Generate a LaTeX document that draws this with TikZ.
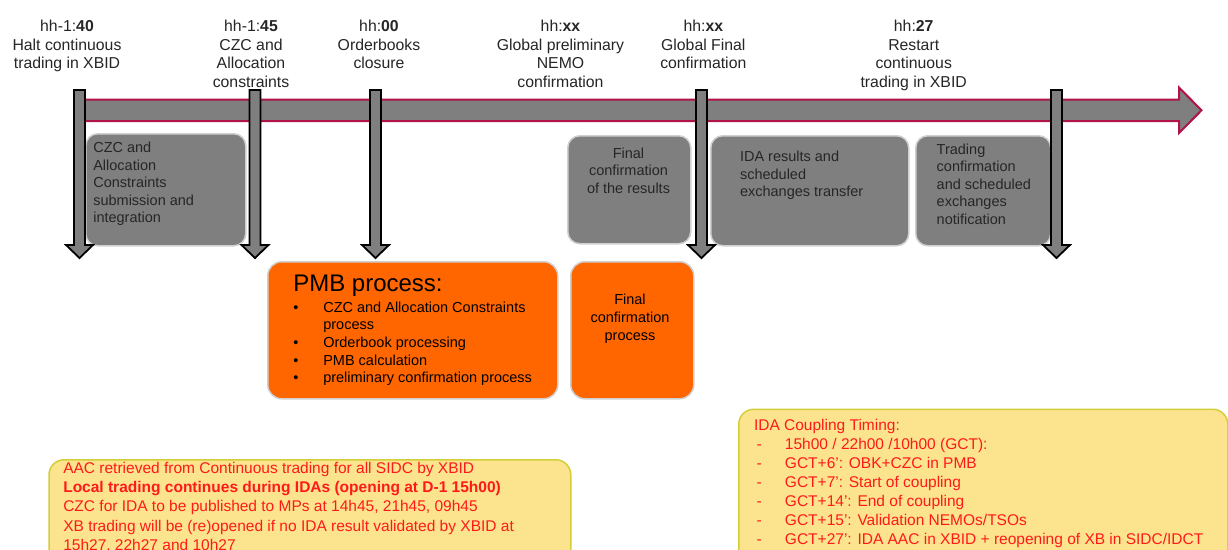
\documentclass[tikz,border=0pt]{standalone}
\usepackage{fontspec}
\setmainfont{Liberation Sans}
\definecolor{boxgray}{HTML}{7F7F7F}
\definecolor{crim}{HTML}{B0124A}
\definecolor{orng}{HTML}{FF6600}
\definecolor{ylw}{HTML}{FCE48E}
\definecolor{ylwline}{HTML}{D4CE3A}
\definecolor{txtdark}{HTML}{262626}
\definecolor{redtxt}{HTML}{FF1A1A}
\definecolor{softline}{HTML}{D0D0D0}
\newcommand\dashitem{\hspace*{2.7pt}\makebox[28.3pt][l]{-}}
\newcommand\bulitem{\makebox[30pt][l]{\textbullet}}
\begin{document}
\begin{tikzpicture}[x=1pt,y=-1pt,
  toplabel/.style={anchor=north,inner sep=0pt,outer sep=0pt,align=center,text=txtdark,
    font=\fontsize{15.8}{18.5}\selectfont},
  graybox/.style={draw=softline,line width=1.5pt,fill=boxgray,rounded corners=12pt,
    anchor=north west,inner sep=0pt},
  orangebox/.style={draw=softline,line width=1.5pt,fill=orng,rounded corners=14pt,
    anchor=north west,inner sep=0pt},
  yellowbox/.style={draw=ylwline,line width=1.5pt,fill=ylw,rounded corners=15pt,
    anchor=north west,inner sep=0pt},
  boxtext/.style={inner sep=0pt,outer sep=0pt,text=txtdark,
    font=\fontsize{14.5}{17.5}\selectfont},
  redtext/.style={inner sep=0pt,outer sep=0pt,text=redtxt,align=left,anchor=north west,
    font=\fontsize{15.5}{19.3}\selectfont},
  arrowline/.style={draw=black,line width=1.8pt,fill=boxgray,line join=miter},
  varrow/.pic={\path[arrowline] (-5.5,90) -- (5.5,90) -- (5.5,245) -- (13.5,245)
     -- (0,258) -- (-13.5,245) -- (-5.5,245) -- cycle;}
]
\useasboundingbox (0,0) rectangle (1228,549);
\clip (0,0) rectangle (1228,549);
\fill[white] (0,0) rectangle (1228,549);

% timeline arrow
\draw[crim,line width=2pt,fill=boxgray,line join=miter]
  (76,99.5) -- (1179,99.5) -- (1179,87.5) -- (1201.5,110.3) -- (1179,133)
  -- (1179,121) -- (76,121) -- cycle;

% top labels
\node[toplabel] (l1) at (67,20.5) {hh-1:\textbf{40}\\Halt continuous\\trading in XBID};
\node[toplabel] (l2) at (251,20.5) {hh-1:\textbf{45}\\CZC and\\Allocation\\constraints};
\node[toplabel] (l3) at (379,20.5) {hh:\textbf{00}\\Orderbooks\\closure};
\node[toplabel] (l4) at (560.5,20.5) {hh:\textbf{xx}\\Global preliminary\\NEMO\\confirmation};
\node[toplabel] (l5) at (703.3,20.5) {hh:\textbf{xx}\\Global Final\\confirmation};
\node[toplabel] (l6) at (913.7,20.5) {hh:\textbf{27}\\Restart\\continuous\\trading in XBID};

% gray boxes
\node[graybox,minimum width=160pt,minimum height=112pt] (g1) at (85,133) {};
\node[graybox,minimum width=123pt,minimum height=108pt] (g2) at (567,135) {};
\node[graybox,minimum width=198pt,minimum height=110pt] (g3) at (710,135) {};
\node[graybox,minimum width=135pt,minimum height=110pt] (g4) at (915,135) {};
\node[boxtext,align=left,anchor=north west] (g1t) at (93.3,142)
  {CZC and\\Allocation\\Constraints\\submission and\\integration};
\node[boxtext,align=center,anchor=north] (g2t) at (628.5,147.8)
  {Final\\confirmation\\of the results};
\node[boxtext,align=left,anchor=north west] (g3t) at (740,151.2)
  {IDA results and\\scheduled\\exchanges transfer};
\node[boxtext,align=left,anchor=north west] (g4t) at (936.7,143.8)
  {Trading\\confirmation\\and scheduled\\exchanges\\notification};

% orange boxes
\node[orangebox,minimum width=290pt,minimum height=137pt] (o1) at (267,261) {};
\node[orangebox,minimum width=123pt,minimum height=137pt] (o2) at (570,261) {};
\node[inner sep=0pt,outer sep=0pt,anchor=base west,font=\fontsize{24}{28}\selectfont]
  (o1title) at (293.3,291.7) {PMB process:};
\node[boxtext,text=black,align=left,anchor=north west,font=\fontsize{14.5}{17.6}\selectfont]
  (o1list) at (293.3,301.8)
  {\bulitem CZC and Allocation Constraints\\\hspace*{30pt}process\\\bulitem Orderbook processing\\\bulitem PMB calculation\\\bulitem preliminary confirmation process};
\node[boxtext,text=black,align=center,anchor=north,font=\fontsize{14.5}{17.6}\selectfont]
  (o2t) at (630,294.4) {Final\\confirmation\\process};

% yellow boxes
\node[yellowbox,minimum width=521.7pt,minimum height=120pt] (y1) at (48.3,459) {};
\node[yellowbox,minimum width=489pt,minimum height=170pt] (y2) at (738,408.5) {};
\node[redtext] (y1t) at (63.3,462)
  {AAC retrieved from Continuous trading for all SIDC by XBID\\\textbf{Local trading continues during IDAs (opening at D-1 15h00)}\\CZC for IDA to be published to MPs at 14h45, 21h45, 09h45\\XB trading will be (re)opened if no IDA result validated by XBID at\\15h27, 22h27 and 10h27};
\node[redtext,font=\fontsize{15.5}{19}\selectfont] (y2t) at (754,419.7)
  {IDA Coupling Timing:\\\dashitem 15h00 / 22h00 /10h00 (GCT):\\\dashitem GCT+6': OBK+CZC in PMB\\\dashitem GCT+7': Start of coupling\\\dashitem GCT+14': End of coupling\\\dashitem GCT+15': Validation NEMOs/TSOs\\\dashitem GCT+27': IDA AAC in XBID + reopening of XB in SIDC/IDCT};

% vertical arrows
\pic at (79.5,0) {varrow};
\pic at (255,0) {varrow};
\pic at (375.5,0) {varrow};
\pic at (701.5,0) {varrow};
\pic at (1056.5,0) {varrow};
\end{tikzpicture}
\end{document}
